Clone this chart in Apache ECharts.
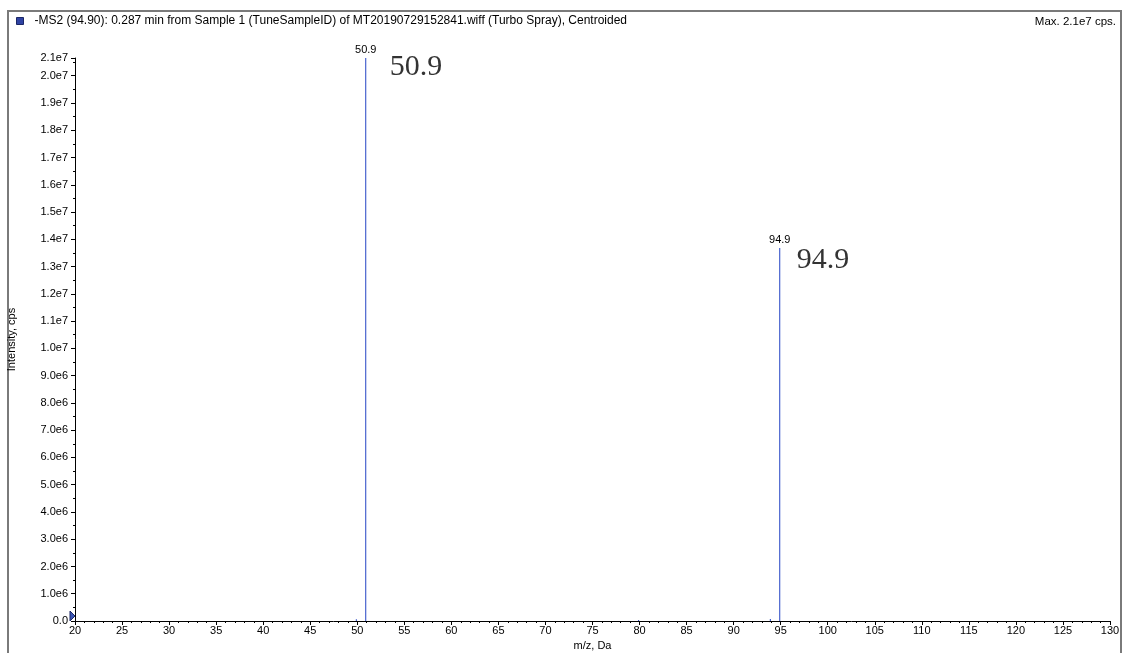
<!DOCTYPE html>
<html>
<head>
<meta charset="utf-8">
<title>MS2 spectrum</title>
<script src="https://cdn.jsdelivr.net/npm/echarts@6/dist/echarts.min.js"></script>
<style>
  html, body { margin: 0; padding: 0; background: #ffffff; }
  #chart { width: 1125px; height: 653px; }
</style>
</head>
<body>
<div id="chart"></div>
<script>
// Spectrum header
const spectrumTitle = '-MS2 (94.90): 0.287 min from Sample 1 (TuneSampleID) of MT20190729152841.wiff (Turbo Spray), Centroided';

// Centroided peaks: m/z and intensity (cps)
const peakMz = [49.9, 50.9, 79.9, 93.9, 94.9];
const peakIntensity = [6.0e4, 2.065e7, 4.0e4, 7.0e4, 1.368e7];

// Peaks that carry an m/z label
const labelledMz = [50.9, 94.9];

// Axis ranges
const mzMin = 20, mzMax = 130, mzStep = 5;
const intensityStep = 1e6;

const font = '"Liberation Sans", Arial, sans-serif';
const serif = '"Liberation Serif", "Times New Roman", serif';
const lineBlue = '#2443c4';

const maxIntensity = Math.max(...peakIntensity);
const fmtExp = v => v === 0 ? '0.0' : v.toExponential(1).replace('e+', 'e');

// position of the large callout relative to each labelled peak tip
const calloutShift = [[24, 9], [17, 12]];

const peakData = peakMz.map((m, i) => {
  const labelled = labelledMz.includes(m);
  return {
    value: [m, peakIntensity[i]],
    label: { show: labelled }
  };
});

const calloutData = labelledMz.map((m, i) => {
  const idx = peakMz.indexOf(m);
  return {
    value: [m, peakIntensity[idx]],
    label: { position: calloutShift[i] }
  };
});

const chart = echarts.init(document.getElementById('chart'), null, { renderer: 'canvas' });

chart.setOption({
  animation: false,
  backgroundColor: '#ffffff',
  title: {
    text: 'Max. ' + fmtExp(maxIntensity) + ' cps.',
    right: 4,
    top: 11,
    textStyle: { fontFamily: font, fontSize: 11.5, fontWeight: 'normal', color: '#000' }
  },
  legend: {
    left: 11,
    top: 10,
    itemWidth: 7,
    itemHeight: 7,
    itemGap: 6,
    selectedMode: false,
    icon: 'rect',
    itemStyle: { color: '#2f43a3', borderColor: '#1b2766', borderWidth: 1 },
    textStyle: { fontFamily: font, fontSize: 12, color: '#000', padding: [0, 0, 0, 6] },
    data: [spectrumTitle]
  },
  grid: { left: 75, right: 15, top: 58, bottom: 32, containLabel: false, outerBoundsMode: 'none' },
  xAxis: {
    type: 'value',
    min: mzMin,
    max: mzMax,
    interval: mzStep,
    name: 'm/z, Da',
    nameLocation: 'middle',
    nameGap: 19,
    nameTextStyle: { fontFamily: font, fontSize: 11, color: '#000' },
    axisLine: { show: true, onZero: false, lineStyle: { color: '#000', width: 1 } },
    axisTick: { show: true, length: 4, lineStyle: { color: '#000' } },
    minorTick: { show: true, splitNumber: 5, length: 2, lineStyle: { color: '#000' } },
    axisLabel: { fontFamily: font, fontSize: 11, color: '#000', margin: 4 },
    splitLine: { show: false }
  },
  yAxis: {
    type: 'value',
    min: 0,
    max: maxIntensity,
    interval: intensityStep,
    name: 'Intensity, cps',
    nameLocation: 'middle',
    nameGap: 58,
    nameRotate: 90,
    nameTextStyle: { fontFamily: font, fontSize: 11, color: '#000' },
    axisLine: { show: true, onZero: false, lineStyle: { color: '#000', width: 1 } },
    axisTick: { show: true, length: 4, lineStyle: { color: '#000' } },
    minorTick: { show: true, splitNumber: 2, length: 2, lineStyle: { color: '#000' } },
    axisLabel: {
      fontFamily: font, fontSize: 11, color: '#000', margin: 7,
      showMaxLabel: true,
      formatter: v => fmtExp(v)
    },
    splitLine: { show: false }
  },
  series: [
    {
      name: spectrumTitle,
      type: 'bar',
      barWidth: 1,
      barMinHeight: 0,
      itemStyle: { color: lineBlue },
      label: {
        position: 'top',
        distance: 3,
        fontFamily: font,
        fontSize: 11,
        color: '#000',
        formatter: p => p.value[0].toFixed(1)
      },
      data: peakData
    },
    {
      name: 'callouts',
      type: 'scatter',
      symbolSize: 0,
      silent: true,
      itemStyle: { color: 'transparent' },
      label: {
        show: true,
        align: 'left',
        verticalAlign: 'middle',
        fontFamily: serif,
        fontSize: 30,
        color: '#000',
        formatter: p => p.value[0].toFixed(1)
      },
      data: calloutData
    }
  ],
  graphic: [
    {
      type: 'rect',
      silent: true,
      shape: { x: 8, y: 11, width: 1113, height: 700 },
      style: { fill: null, stroke: '#7a7a7a', lineWidth: 2 }
    },
    {
      type: 'polygon',
      silent: true,
      shape: { points: [[70, 611], [75, 616], [70, 621]] },
      style: { fill: '#3b55b5', stroke: '#1b2766', lineWidth: 1 }
    }
  ]
});
</script>
</body>
</html>
